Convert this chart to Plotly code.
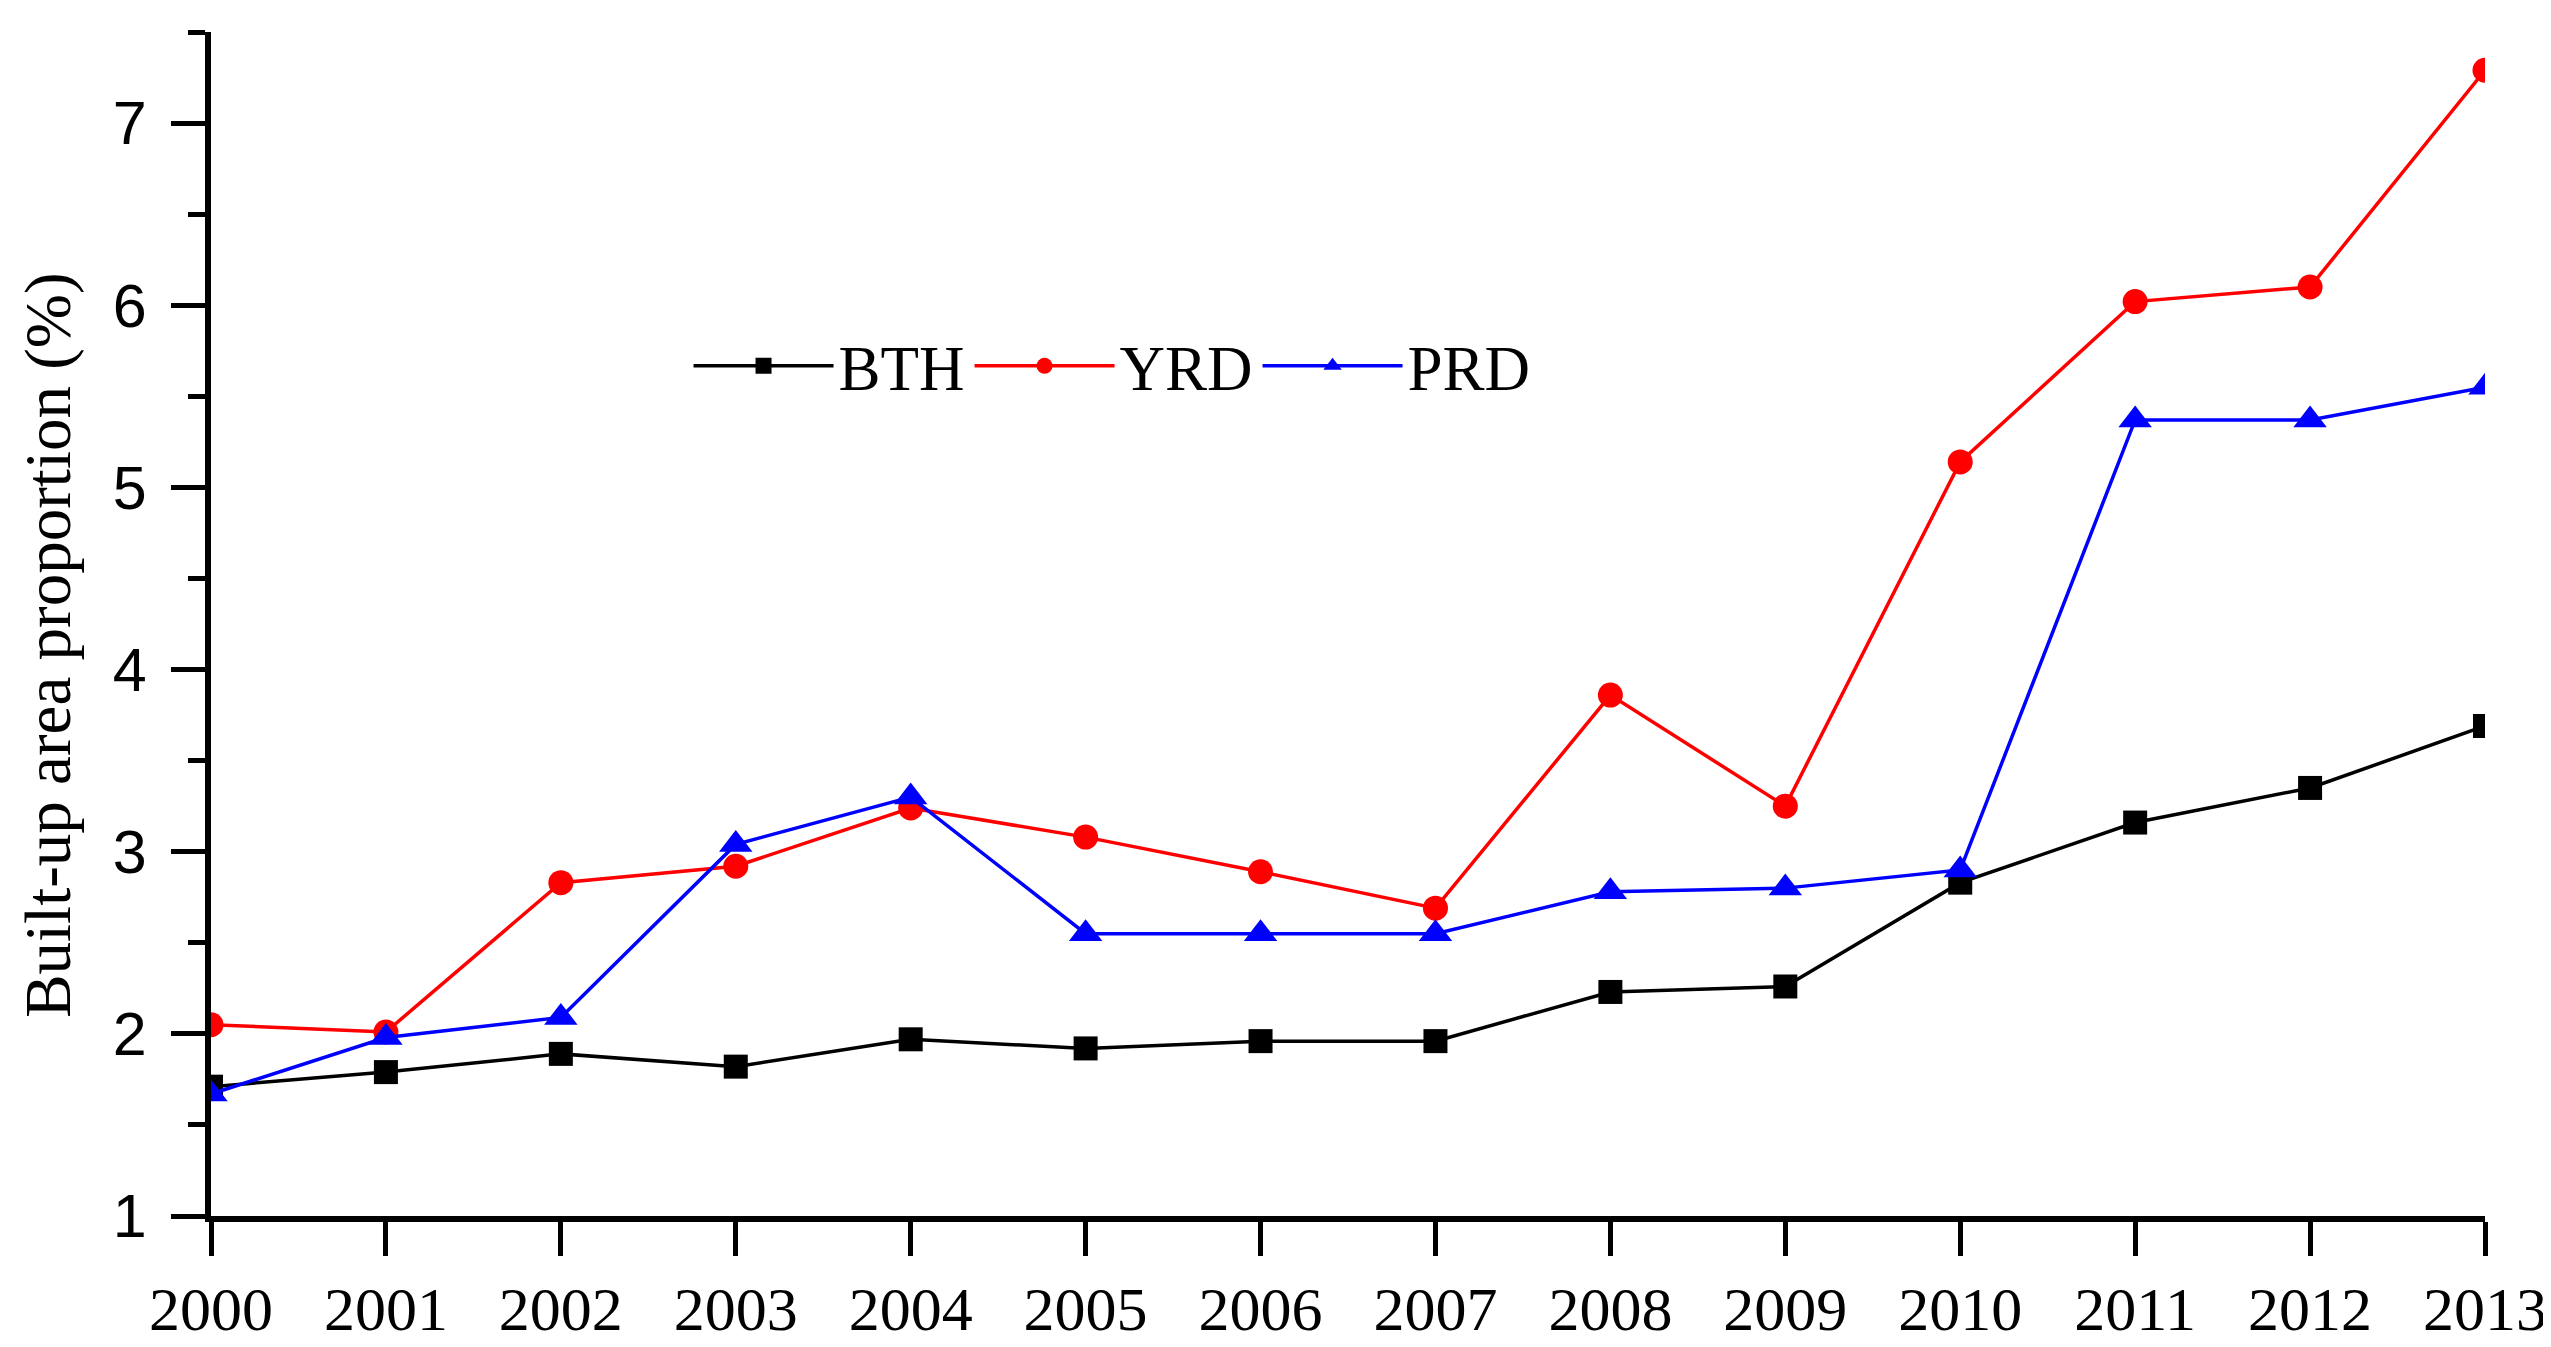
import plotly.graph_objects as go

years = list(range(2000, 2014))
bth = [1.71, 1.79, 1.89, 1.82, 1.97, 1.92, 1.96, 1.96, 2.23, 2.26, 2.83, 3.16, 3.35, 3.69]
yrd = [2.05, 2.01, 2.83, 2.92, 3.24, 3.08, 2.89, 2.69, 3.86, 3.25, 5.14, 6.02, 6.10, 7.29]
prd = [1.67, 1.98, 2.09, 3.04, 3.30, 2.55, 2.55, 2.55, 2.78, 2.80, 2.90, 5.37, 5.37, 5.55]
series_names = ["BTH", "YRD", "PRD"]
y_title = "Built-up area proportion (%)"

serif = "Liberation Serif, Times New Roman, serif"
sans = "Liberation Sans, Arial, sans-serif"

W, H = 2551, 1347
L, R, T, B = 203, 73, 24, 125
plot_w = W - L - R
plot_h = H - T - B

fig = go.Figure()
styles = [
    (bth, "#000000", "square", 24),
    (yrd, "#FF0000", "circle", 25),
    (prd, "#0000FF", "triangle-up", 29),
]
for name, (vals, color, sym, size) in zip(series_names, styles):
    fig.add_trace(go.Scatter(
        x=years, y=vals, name=name, mode="lines+markers",
        line=dict(color=color, width=3.5),
        marker=dict(symbol=sym, size=size, color=color, line=dict(width=0)),
    ))

fig.update_layout(
    width=W, height=H,
    margin=dict(l=L, r=R, t=T, b=B),
    paper_bgcolor="white", plot_bgcolor="white",
    showlegend=True,
    legend=dict(
        orientation="h", x=0.21, y=0.718, xanchor="left", yanchor="middle",
        font=dict(family=serif, size=63, color="black"),
        bgcolor="rgba(0,0,0,0)", itemwidth=140, tracegroupgap=0,
    ),
    annotations=[dict(
        text=y_title, textangle=-90, showarrow=False,
        xref="paper", yref="paper",
        x=(40 - L) / plot_w, y=(H - B - 645) / plot_h,
        xanchor="center", yanchor="middle",
        font=dict(family=serif, size=65, color="black"),
    )],
)
fig.update_xaxes(
    range=[2000, 2013], tickvals=years, ticktext=[str(y) for y in years],
    showline=True, linecolor="black", linewidth=6,
    ticks="outside", ticklen=34, tickwidth=5, tickcolor="black",
    tickfont=dict(family=serif, size=62, color="black"),
    showgrid=False, zeroline=False, mirror=False,
)
fig.update_yaxes(
    range=[1, 7.5], tickvals=[1, 2, 3, 4, 5, 6, 7],
    showline=True, linecolor="black", linewidth=6,
    ticks="outside", ticklen=34, tickwidth=5, tickcolor="black",
    ticklabelstandoff=12,
    tickfont=dict(family=sans, size=61, color="black"),
    minor=dict(ticks="outside", ticklen=17, tickwidth=5, tickcolor="black",
               tickvals=[1.5, 2.5, 3.5, 4.5, 5.5, 6.5, 7.5], showgrid=False),
    showgrid=False, zeroline=False,
)

fig.write_html("out.html")
